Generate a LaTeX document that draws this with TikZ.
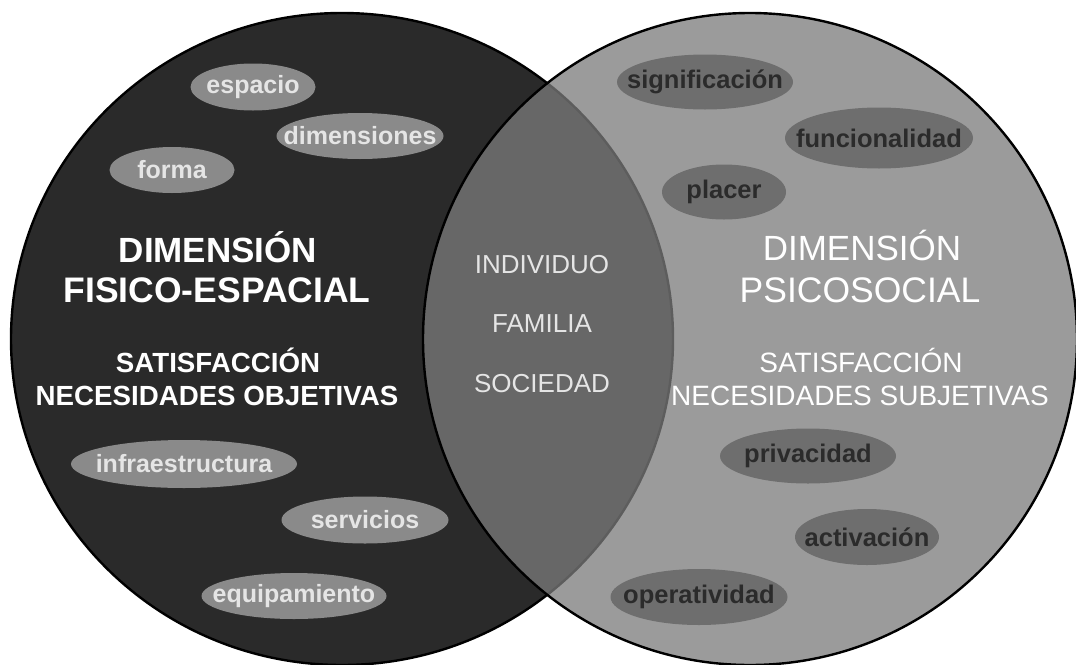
\documentclass[tikz,border=0pt]{standalone}
\usepackage{fontspec}
\setmainfont{Liberation Sans}
\usetikzlibrary{shapes}

\definecolor{fisico}{gray}{0.165}
\definecolor{psico}{gray}{0.482}
\definecolor{burbujaclara}{gray}{0.54}
\definecolor{burbujaosc}{gray}{0.43}
\definecolor{textoclaro}{gray}{0.9}
\definecolor{textoosc}{gray}{0.17}

% texto sin ancho, asi la elipse la fija minimum width
\newcommand{\burbuja}[1]{\makebox[0pt]{#1}}

\tikzset{
    objetiva/.style={ellipse, fill=burbujaclara, text=textoclaro, inner sep=0pt,
        font=\bfseries\fontsize{25}{25}\selectfont},
    subjetiva/.style={ellipse, fill=burbujaosc, text=textoosc, inner sep=0pt,
        font=\bfseries\fontsize{25.5}{25.5}\selectfont},
    titulo/.style={anchor=base, text=white, inner sep=0pt},
}

\begin{document}
\begin{tikzpicture}[x=1pt, y=-1pt]
    \useasboundingbox (0,0) rectangle (1076,664);

    % los dos circulos
    \draw [line width=2.4pt, fill=fisico] (342,339) ellipse [x radius=331pt, y radius=326pt];
    \draw [line width=2.4pt, fill=psico, fill opacity=0.756] (750,339) ellipse [x radius=327pt, y radius=326pt];

    % dimension fisico-espacial
    \node [objetiva, minimum width=125pt, minimum height=47pt] (espacio) at (253,87) {\burbuja{espacio}};
    \node [objetiva, minimum width=167pt, minimum height=46pt] (dimensiones) at (360,136) {\burbuja{dimensiones}};
    \node [objetiva, minimum width=125pt, minimum height=46pt] (forma) at (172,170) {\burbuja{forma}};

    \node [titulo, font=\bfseries\fontsize{35}{35}\selectfont] (dimfis) at (218,262) {DIMENSIÓN};
    \node [titulo, font=\bfseries\fontsize{35.5}{35.5}\selectfont] (fisesp) at (217,302) {FISICO-ESPACIAL};
    \node [titulo, font=\bfseries\fontsize{27.7}{27.7}\selectfont] (satobj) at (218,372) {SATISFACCIÓN};
    \node [titulo, font=\bfseries\fontsize{27.7}{27.7}\selectfont] (necobj) at (217,405) {NECESIDADES OBJETIVAS};

    \node [objetiva, minimum width=226pt, minimum height=48pt] (infra) at (184,464) {\burbuja{infraestructura}};
    \node [objetiva, minimum width=167pt, minimum height=47pt] (servicios) at (365,520) {\burbuja{servicios}};
    \node [objetiva, minimum width=185pt, minimum height=46pt] (equipo) at (294,596) {\burbuja{equipamiento}};

    % interseccion
    \node [titulo, text=textoclaro, font=\fontsize{26}{26}\selectfont] (individuo) at (542,273) {INDIVIDUO};
    \node [titulo, text=textoclaro, font=\fontsize{26}{26}\selectfont] (familia) at (542,332) {FAMILIA};
    \node [titulo, text=textoclaro, font=\fontsize{26}{26}\selectfont] (sociedad) at (542,392) {SOCIEDAD};

    % dimension psicosocial
    \node [subjetiva, minimum width=176pt, minimum height=55pt] (signif) at (705,82) {\burbuja{significación}};
    \node [subjetiva, minimum width=188pt, minimum height=61pt] (funcion) at (879,138) {\burbuja{funcionalidad}};
    \node [subjetiva, minimum width=124pt, minimum height=55pt] (placer) at (724,192) {\burbuja{placer}};

    \node [titulo, font=\fontsize{35}{35}\selectfont] (dimpsi) at (862,260) {DIMENSIÓN};
    \node [titulo, font=\fontsize{35.5}{35.5}\selectfont] (psicosoc) at (860,302) {PSICOSOCIAL};
    \node [titulo, font=\fontsize{28}{28}\selectfont] (satsub) at (861,372) {SATISFACCIÓN};
    \node [titulo, font=\fontsize{28}{28}\selectfont] (necsub) at (860,405) {NECESIDADES SUBJETIVAS};

    \node [subjetiva, minimum width=176pt, minimum height=55pt] (privac) at (808,456) {\burbuja{privacidad}};
    \node [subjetiva, minimum width=144pt, minimum height=56pt] (activ) at (867,537) {\burbuja{activación}};
    \node [subjetiva, minimum width=177pt, minimum height=56pt] (operat) at (699,597) {\burbuja{operatividad}};
\end{tikzpicture}
\end{document}
